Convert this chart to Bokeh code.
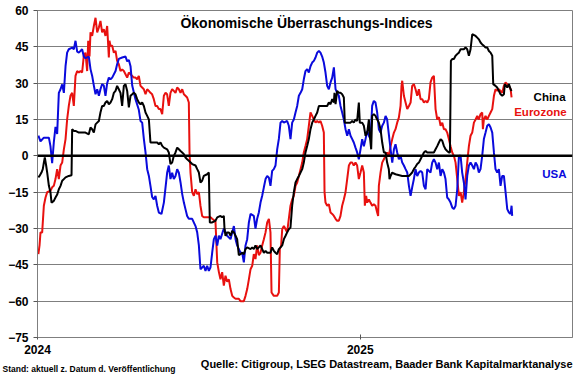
from bokeh.plotting import figure
from bokeh.layouts import column
from bokeh.models import FixedTicker, Span, Label, Range1d
from bokeh.embed import file_html
from bokeh.resources import INLINE

# x = days since 2024-01-01, y = index value
usa_points = [(1,8.3),(3.4,6),(7.2,7.5),(12.9,7.5),(14.7,4),(16.6,-3),(18.5,5.5),(20.4,12),(22.3,9),(24.2,26),(26.1,27.5),(28.0,29.5),(29.9,26),(31.8,37),(33.6,42.6),(35.5,44),(39.3,44.7),(41.2,44),(43.1,47.5),(45.0,43),(46.9,42.6),(50.6,44),(52.5,41),(54.4,40.3),(58.2,41),(60.1,35.8),(62.0,33),(63.9,29),(65.8,25.4),(67.7,27.5),(69.6,24.8),(71.4,27.5),(73.3,29.6),(75.2,29),(77.1,24.8),(79.0,30),(80.9,32.3),(82.8,31.6),(84.7,32.3),(88.5,35),(90.3,37.8),(92.2,40),(96.0,40.6),(99.8,41),(101.7,39),(103.6,39.6),(105.5,37),(107.4,29),(111.1,23.4),(114.9,19),(116.8,14.4),(118.7,13.7),(120.6,7),(122.5,1.4),(124.4,-5.5),(126.3,-8.3),(128.1,-12.4),(130.0,-17),(131.9,-18),(133.8,-16.5),(135.7,-20.6),(137.6,-23.4),(140.6,-24),(143.3,-19.3),(145.2,-13),(147.0,-7),(148.9,-4),(150.8,-9.6),(152.7,-7),(154.6,-9.6),(156.5,-8.3),(158.4,-5.5),(160.3,-7),(162.2,-11),(164.1,-15.8),(166.0,-19.3),(167.8,-22),(169.7,-24.8),(171.6,-26),(175.4,-26),(179.2,-29),(181.1,-31.6),(183.0,-37),(184.8,-46.8),(188.6,-45.4),(190.5,-47.5),(192.4,-45.4),(194.3,-47.5),(196.2,-46),(198.1,-40),(200.0,-34.4),(201.9,-33),(203.8,-37),(205.7,-33),(207.5,-34.4),(211.3,-30),(215.1,-33),(218.9,-34.4),(222.7,-29),(224.6,-34.4),(226.4,-37),(230.2,-40),(232.1,-40),(234.0,-44),(235.9,-37),(237.8,-34.4),(239.7,-27.5),(241.6,-24),(245.3,-24.8),(247.2,-30),(249.1,-26),(251.0,-23.4),(252.9,-19.3),(254.8,-16.5),(256.7,-13),(258.6,-9.6),(260.5,-8.3),(262.4,-9),(264.2,-12.4),(266.1,-6.2),(268.0,-5.5),(269.9,-4),(271.8,2.7),(273.7,7),(275.6,13.7),(277.5,14.4),(279.4,13.7),(283.1,14.4),(285.0,12.4),(286.9,6.9),(288.8,13.7),(290.7,15),(292.6,17.9),(294.5,20.6),(296.4,24.8),(298.3,26),(300.2,27.5),(302.0,31.6),(303.9,35),(305.8,35.8),(307.7,34.4),(309.6,37),(311.5,38.5),(313.4,39.2),(315.3,40.6),(317.2,42.6),(319.1,43.3),(320.9,42.6),(322.8,41),(324.7,38.5),(326.6,34.4),(328.5,28.9),(330.4,27.5),(332.3,30.3),(334.2,32.3),(336.1,36.5),(338.0,27.5),(339.8,26),(341.7,24.8),(343.6,20.6),(345.5,17.9),(347.4,15),(349.3,11),(351.2,8.3),(353.1,11),(355.0,8.3),(356.9,6.9),(358.7,5.5),(360.6,3.4),(362.5,1.4),(364.4,-1.4),(366.3,2.7),(368.2,6.9),(370.1,4),(372.0,6.9),(373.9,10.3),(375.8,8.3),(377.6,6.9),(379.5,20.6),(381.4,22.7),(383.3,22),(385.2,17.9),(387.1,11),(389.0,9.6),(390.9,12.4),(392.8,13.7),(394.7,16.5),(396.5,15),(398.4,9),(400.3,3),(402.3,-2.8),(404.2,2.7),(406.0,4.8),(407.9,1.4),(409.8,-1.4),(411.7,0),(413.6,-2.8),(415.5,-4),(417.4,-5.5),(419.3,-6.9),(421.2,-12.4),(423.1,-16.5),(424.9,-13),(426.8,-9.6),(428.7,-5.5),(430.6,-8.3),(432.5,-6.9),(434.4,-6.2),(436.3,-6.9),(438.2,-12.4),(440.1,-13.8),(442.0,-5.5),(443.8,-6.2),(445.7,-6.9),(447.6,-2.8),(449.5,-1.4),(451.4,-2.8),(453.3,-5.5),(455.2,-2.8),(457.1,-8.3),(459.0,-5.5),(460.9,-6.9),(462.7,-9.6),(464.6,-17.2),(466.5,-18),(468.4,-19.3),(470.3,-21.3),(472.2,-22),(474.1,-20.6),(476.0,-13.8),(477.9,0),(479.8,0),(481.6,-6.9),(483.5,-11),(485.4,-18),(487.3,-8.3),(489.2,-4),(491.1,-2.8),(493.0,-4),(494.9,-5.5),(496.8,-2.8),(498.7,-4),(500.5,-6.9),(502.4,-5.5),(504.3,0),(506.2,6.9),(508.1,9.6),(510.0,12.4),(511.9,13),(513.8,11.7),(515.7,9.6),(517.6,1.4),(519.4,-5.5),(521.3,-6.9),(523.2,-5.5),(525.1,-12.4),(527.0,-8.3),(528.9,-8.3),(530.8,-15),(532.7,-22),(534.6,-23.4),(536.5,-24),(537.6,-20.6),(538.3,-24.8)]

euro_points = [(1,-40.6),(2.3,-37),(3.4,-31.6),(5.3,-31.6),(7.2,-20.6),(9.1,-17.2),(11.0,-15),(14.7,-14.4),(16.6,-13),(18.5,-12.4),(20.4,-9.6),(22.3,-5.5),(24.2,-9.6),(26.1,-4),(28.0,-2.8),(29.9,2.7),(31.8,6.9),(33.6,15),(35.5,20.6),(37.4,24.8),(39.3,26),(41.2,20.6),(43.1,33),(45.0,35),(46.9,34.4),(48.8,35),(50.6,34.4),(52.5,41.3),(54.4,42.6),(56.3,35),(57.5,47.5),(59.0,41),(60.1,51),(62.0,49.5),(63.9,53.6),(65.8,57),(67.7,51),(69.6,53),(71.4,55.7),(73.3,51),(75.2,52.3),(77.1,49.5),(79.0,53.6),(80.9,40.6),(81.6,47.5),(82.8,45.4),(84.7,45.4),(86.6,42.6),(88.5,43.3),(90.3,39.2),(92.2,37.8),(94.1,35),(96.0,35.7),(97.9,35),(99.8,33.7),(101.7,32.3),(103.6,34.4),(105.5,33.7),(107.4,33),(109.2,32.3),(111.1,32.3),(113.0,31.6),(114.9,33),(116.8,28.9),(118.7,28.2),(120.6,27.5),(122.5,25.4),(124.4,27.5),(126.3,26.8),(128.1,26),(130.0,25.4),(131.9,23.4),(133.8,20.6),(135.7,20.6),(137.6,19.3),(139.5,19.3),(141.4,17.2),(143.3,24.8),(145.2,26),(147.0,25.4),(148.9,20.6),(150.8,26),(152.7,27.5),(154.6,26.8),(156.5,26),(158.4,28.2),(160.3,27.5),(162.2,26),(164.1,27.5),(166.0,25.4),(167.8,24.8),(169.7,24.1),(171.6,22),(172.4,1.4),(173.5,-6.9),(175.4,-15),(177.3,-16.5),(179.2,-13.8),(181.1,-15.8),(183.0,-15),(184.8,-20.6),(186.7,-24.8),(188.6,-25.4),(196.2,-25.4),(198.1,-26),(201.8,-27),(203.8,-44),(205.7,-48),(207.5,-51),(209.4,-48),(211.3,-53.6),(213.2,-49.5),(215.1,-52),(217.0,-51),(218.9,-55),(220.8,-57.8),(222.7,-58.5),(224.6,-59),(228.3,-59),(230.2,-60),(234.0,-60),(235.9,-57.8),(237.8,-55),(239.7,-51),(241.6,-46.8),(243.5,-45.4),(245.3,-40.6),(247.2,-42.6),(249.1,-37),(251.0,-41),(252.9,-40),(254.8,-37),(256.7,-34.4),(258.6,-31.6),(260.5,-27.5),(262.4,-26),(264.2,-31.6),(265.4,-56.4),(268.0,-57.8),(271.8,-57.8),(273.7,-56.4),(274.8,-38.5),(276.3,-37),(277.5,-30.3),(279.4,-29),(281.3,-30.3),(283.1,-31.6),(285.0,-26),(286.9,-20.6),(288.8,-18),(290.7,-16.5),(292.6,-12.4),(294.5,-11),(296.4,-8.3),(298.3,-5.5),(300.2,-2.8),(302.0,1.4),(303.9,4.1),(305.8,6.9),(307.7,12.4),(309.6,17.9),(311.5,16.5),(313.4,15),(315.3,13.7),(317.2,14.4),(319.1,13.7),(320.9,14.4),(322.8,12.4),(324.7,9.6),(325.5,-15),(326.6,-19.3),(328.5,-20.6),(330.4,-20),(332.3,-23.4),(334.2,-24),(336.1,-24.8),(338.0,-26),(339.8,-26.8),(341.7,-26.8),(343.6,-24.8),(345.5,-20.6),(347.4,-18),(349.3,-15),(351.2,-9.6),(353.1,-4),(355.0,-2.8),(356.9,-2.8),(358.7,-4),(360.6,-2.8),(362.5,-4),(364.4,-9.6),(366.3,-6.9),(368.2,-4),(370.1,-6.9),(371.2,-20.6),(372.7,-16.5),(373.9,-19.3),(375.8,-18),(377.6,-19.3),(379.5,-20.6),(381.4,-20),(383.3,-20.6),(385.2,-23.4),(386.3,-24.8),(387.1,-12.4),(389.0,-6.9),(390.9,-2.8),(392.8,-1.4),(394.7,0),(396.5,1.4),(398.4,0),(400.4,4),(402.3,6.9),(404.2,9.6),(406.0,11),(407.9,13.7),(409.8,15.8),(411.7,20.6),(412.8,28.9),(413.6,31),(415.5,24.8),(417.4,22),(419.3,19.3),(421.2,20.6),(423.1,22),(424.9,28.9),(426.8,29.6),(428.7,27.5),(430.6,24.8),(432.5,27.5),(434.4,23.4),(436.3,23.4),(438.2,22),(440.1,22.7),(442.0,22),(443.8,23.4),(445.7,30.3),(447.6,32.3),(449.5,33),(451.4,19.3),(453.3,15),(455.2,16),(457.1,12.4),(459.0,13.7),(460.9,11),(462.7,11),(464.6,9.6),(466.5,6.9),(468.4,4),(470.3,1.4),(472.2,0),(474.1,-2.8),(476.0,-9.6),(477.9,-16.5),(479.8,-15),(481.6,-19.3),(483.5,-15),(485.4,-9.6),(487.3,-2.8),(489.2,4),(491.1,8.3),(493.0,9.6),(494.9,13.7),(496.8,15),(498.7,16.5),(500.5,15),(502.4,17.2),(504.3,17.9),(505.1,11),(506.2,15),(508.1,16.5),(510.0,15),(511.9,16.5),(513.8,17.9),(515.7,19.3),(517.6,24.8),(519.4,27.5),(521.3,26.8),(523.2,27.5),(525.1,26.8),(527.0,26),(528.9,28.9),(530.8,30.3),(532.7,29.6),(534.6,28.9),(536.5,27.5),(537.6,24.1)]

china_points = [(1,-8.9),(2.3,-8.3),(4.5,-6.9),(6.0,-5.5),(7.2,-2.8),(8.3,-0.7),(9.8,-4),(11.0,-6.9),(12.9,-12.4),(14.7,-15),(15.9,-19.3),(18.5,-18.6),(20.4,-17.2),(22.3,-16),(24.2,-13.8),(26.1,-12.4),(28.0,-10.3),(29.9,-9.6),(31.8,-8.9),(35.5,-8.3),(38.6,-8),(39.3,11),(41.2,10.3),(43.1,10.3),(46.9,9.6),(54.4,9.6),(58.2,8.9),(60.1,11.7),(62.0,11),(63.9,9.6),(65.8,13),(67.7,13.7),(69.6,14.4),(71.4,17.9),(73.3,20.6),(75.2,20.6),(77.1,22),(79.0,22.7),(80.9,21.3),(82.8,22),(84.7,23.4),(86.6,26),(88.5,26.8),(90.3,28.9),(92.2,27.5),(94.1,26),(96.0,20.6),(97.9,28.9),(99.8,29.6),(101.7,26.8),(103.6,20),(105.5,24.8),(107.4,25.4),(109.2,26),(111.1,25.4),(113.0,23.4),(114.9,22),(116.8,21.3),(118.7,22),(120.6,20.6),(122.5,17.9),(124.4,16.5),(126.3,15),(128.1,5.5),(135.7,5.5),(137.6,4.8),(139.5,5.5),(141.4,4.1),(143.3,3.4),(147.0,2.7),(148.9,1.4),(150.8,-3.4),(152.7,-2.8),(154.6,0),(156.5,1.4),(158.4,3.4),(160.3,2.7),(162.2,2),(164.1,1.4),(166.0,0.7),(167.8,-0.7),(169.7,-1.4),(171.6,-2),(175.4,-3.4),(179.2,-4),(181.1,-5.5),(183.0,-6.9),(184.8,-11),(186.7,-10.3),(188.6,-8.3),(192.4,-7.6),(194.3,-6.9),(195.4,-27.5),(198.1,-27.5),(201.8,-26.8),(203.8,-25.4),(207.5,-24.8),(209.4,-25.4),(211.3,-24.8),(212.1,-30.3),(213.2,-33),(215.1,-31.6),(217.0,-31.6),(218.9,-33),(220.8,-31),(222.7,-31.6),(224.6,-33),(226.4,-34.4),(228.3,-41),(230.2,-40.6),(232.1,-40),(234.0,-40.6),(235.9,-38.5),(237.8,-37.8),(241.6,-38.5),(243.5,-37.8),(245.3,-38.5),(247.2,-37),(249.1,-38.5),(251.0,-37.8),(252.9,-37),(254.8,-38.5),(256.7,-40),(258.6,-39.2),(260.5,-40),(264.2,-40),(266.1,-37.8),(268.0,-39.2),(269.9,-40),(271.8,-40.6),(273.7,-38.5),(275.6,-37.8),(277.5,-37),(279.4,-34.4),(281.3,-33),(283.1,-31.6),(285.0,-30.3),(286.9,-29.6),(288.8,-20.6),(290.7,-15),(292.6,-11),(294.5,-9.6),(296.4,-8.3),(298.3,-6.9),(300.2,-5.5),(302.0,-2.8),(303.9,1.4),(305.8,4.1),(307.7,6.9),(309.6,11),(311.5,13.7),(313.4,15),(315.3,16.5),(317.2,17.9),(319.1,20.6),(328.5,20.6),(330.4,22),(332.3,21.3),(334.2,23.4),(336.1,22),(336.8,26),(338.0,21.3),(339.8,26.8),(341.7,26),(343.6,26),(345.5,25.4),(347.4,24.1),(348.5,13.7),(355.0,13.7),(356.9,14.4),(358.7,13.7),(360.6,15),(362.5,14.4),(364.4,22),(365.5,13.7),(368.2,13.7),(370.1,12.4),(372.0,8.3),(373.9,9.6),(375.8,15),(376.9,8.3),(378.4,2.7),(379.5,16.5),(381.4,17.2),(383.3,16.5),(385.2,15),(387.1,13.7),(389.0,11),(390.9,5.5),(392.8,1.4),(394.7,1.4),(396.5,-2.8),(398.4,-5.5),(399.2,-9.6),(400.4,-8.3),(402.3,-6.9),(404.2,-7.3),(406.0,-7.6),(413.6,-8.3),(421.2,-8.3),(423.1,-7.6),(424.9,-6.9),(426.8,-5.5),(428.7,-4.5),(430.6,-3.4),(432.5,-2.8),(434.4,-1.4),(436.3,0),(438.2,1.4),(440.1,2),(442.0,1.4),(449.5,1.4),(451.4,2.7),(453.3,4),(455.2,5.5),(457.1,6.9),(459.0,6.2),(460.9,4),(462.7,2.7),(464.6,2),(466.5,1.4),(467.7,1.4),(468.8,39.2),(470.3,40),(472.2,40),(474.1,41.3),(476.0,42),(477.9,42.6),(479.8,44),(483.5,44),(485.4,44.7),(487.3,44),(489.2,41.3),(491.1,44),(493.0,50.2),(496.8,49.5),(498.7,48.8),(500.5,48.1),(502.4,46.8),(504.3,46),(506.2,45.4),(508.1,44.7),(510.0,44.7),(511.9,43.3),(513.8,42.6),(515.7,41.3),(516.8,29.6),(519.4,28.9),(521.3,28.2),(523.2,26.8),(525.1,25.4),(527.0,24.8),(528.9,25.4),(530.0,29.6),(531.5,28.9),(532.7,28.2),(534.6,29.6),(536.5,27.5),(537.6,26.8)]

x_tick_days = [0, 366]
x_tick_labels = ["2024", "2025"]
y_ticks = [-75, -60, -45, -30, -15, 0, 15, 30, 45, 60]

FONT = "Liberation Sans"
BLUE = "#0A0ADC"
RED = "#E8110F"

p = figure(width=580, height=358, output_backend="svg", toolbar_location=None,
           x_range=Range1d(0, 606.7), y_range=Range1d(-75, 60),
           min_border_left=37, min_border_right=8, min_border_top=10, min_border_bottom=21,
           background_fill_color="white", border_fill_color="white")
p.frame_align = False
p.outline_line_color = "#7F7F7F"
p.outline_line_width = 1

p.xgrid.visible = False
p.ygrid.ticker = FixedTicker(ticks=y_ticks)
p.ygrid.grid_line_color = "#7F7F7F"
p.ygrid.grid_line_width = 1

p.yaxis.ticker = FixedTicker(ticks=y_ticks)
p.xaxis.ticker = FixedTicker(ticks=x_tick_days)
p.xaxis.major_label_overrides = {d: l for d, l in zip(x_tick_days, x_tick_labels)}
for ax in (p.xaxis, p.yaxis):
    ax.axis_line_color = "#7F7F7F"
    ax.major_tick_line_color = "#555555"
    ax.minor_tick_line_color = None
    ax.major_label_text_font = FONT
    ax.major_label_text_font_style = "bold"
    ax.major_label_text_font_size = "12px"
    ax.major_label_text_color = "black"
p.yaxis.major_tick_in = 0
p.yaxis.major_tick_out = 4
p.yaxis.major_label_standoff = 5
p.xaxis.major_tick_in = 3
p.xaxis.major_tick_out = 2
p.xaxis.major_label_standoff = 5

p.add_layout(Span(location=0, dimension="width", line_color="black", line_width=2.5))

def unzip(pts):
    return [a for a, b in pts], [b for a, b in pts]

ed, ev = unzip(euro_points)
ud, uv = unzip(usa_points)
cd, cv = unzip(china_points)
p.line(ed, ev, line_color=RED, line_width=2)
p.line(ud, uv, line_color=BLUE, line_width=2)
p.line(cd, cv, line_color="black", line_width=2)

def lab(fig, x, y, text, color="black", size="11.5px", align="left"):
    fig.add_layout(Label(x=x, y=y, text=text, text_color=color,
                         text_font=FONT, text_font_style="bold", text_font_size=size,
                         text_align=align, text_baseline="middle"))

lab(p, 305, 55.0, "Ökonomische Überraschungs-Indices", size="14px", align="center")
lab(p, 598.8, 24.2, "China", align="right")
lab(p, 600, 18.3, "Eurozone", color=RED, align="right")
lab(p, 600, -7.7, "USA", color=BLUE, align="right")

# footer strip with the source notes (pixel-like coordinates, y measured upward)
foot = figure(width=580, height=17, output_backend="svg", toolbar_location=None,
              x_range=Range1d(0, 580), y_range=Range1d(0, 17),
              x_axis_type=None, y_axis_type=None,
              min_border_left=0, min_border_right=0, min_border_top=0, min_border_bottom=0,
              background_fill_color="white", border_fill_color="white")
foot.frame_align = False
foot.outline_line_color = None
foot.grid.visible = False
lab(foot, 572, 12, "Quelle: Citigroup, LSEG Datastream, Baader Bank Kapitalmarktanalyse",
    size="11px", align="right")
lab(foot, 2, 7, "Stand: aktuell z. Datum d. Veröffentlichung", size="8.5px", align="left")

layout = column(p, foot, spacing=0)
open("out.html", "w").write(file_html(layout, INLINE))
